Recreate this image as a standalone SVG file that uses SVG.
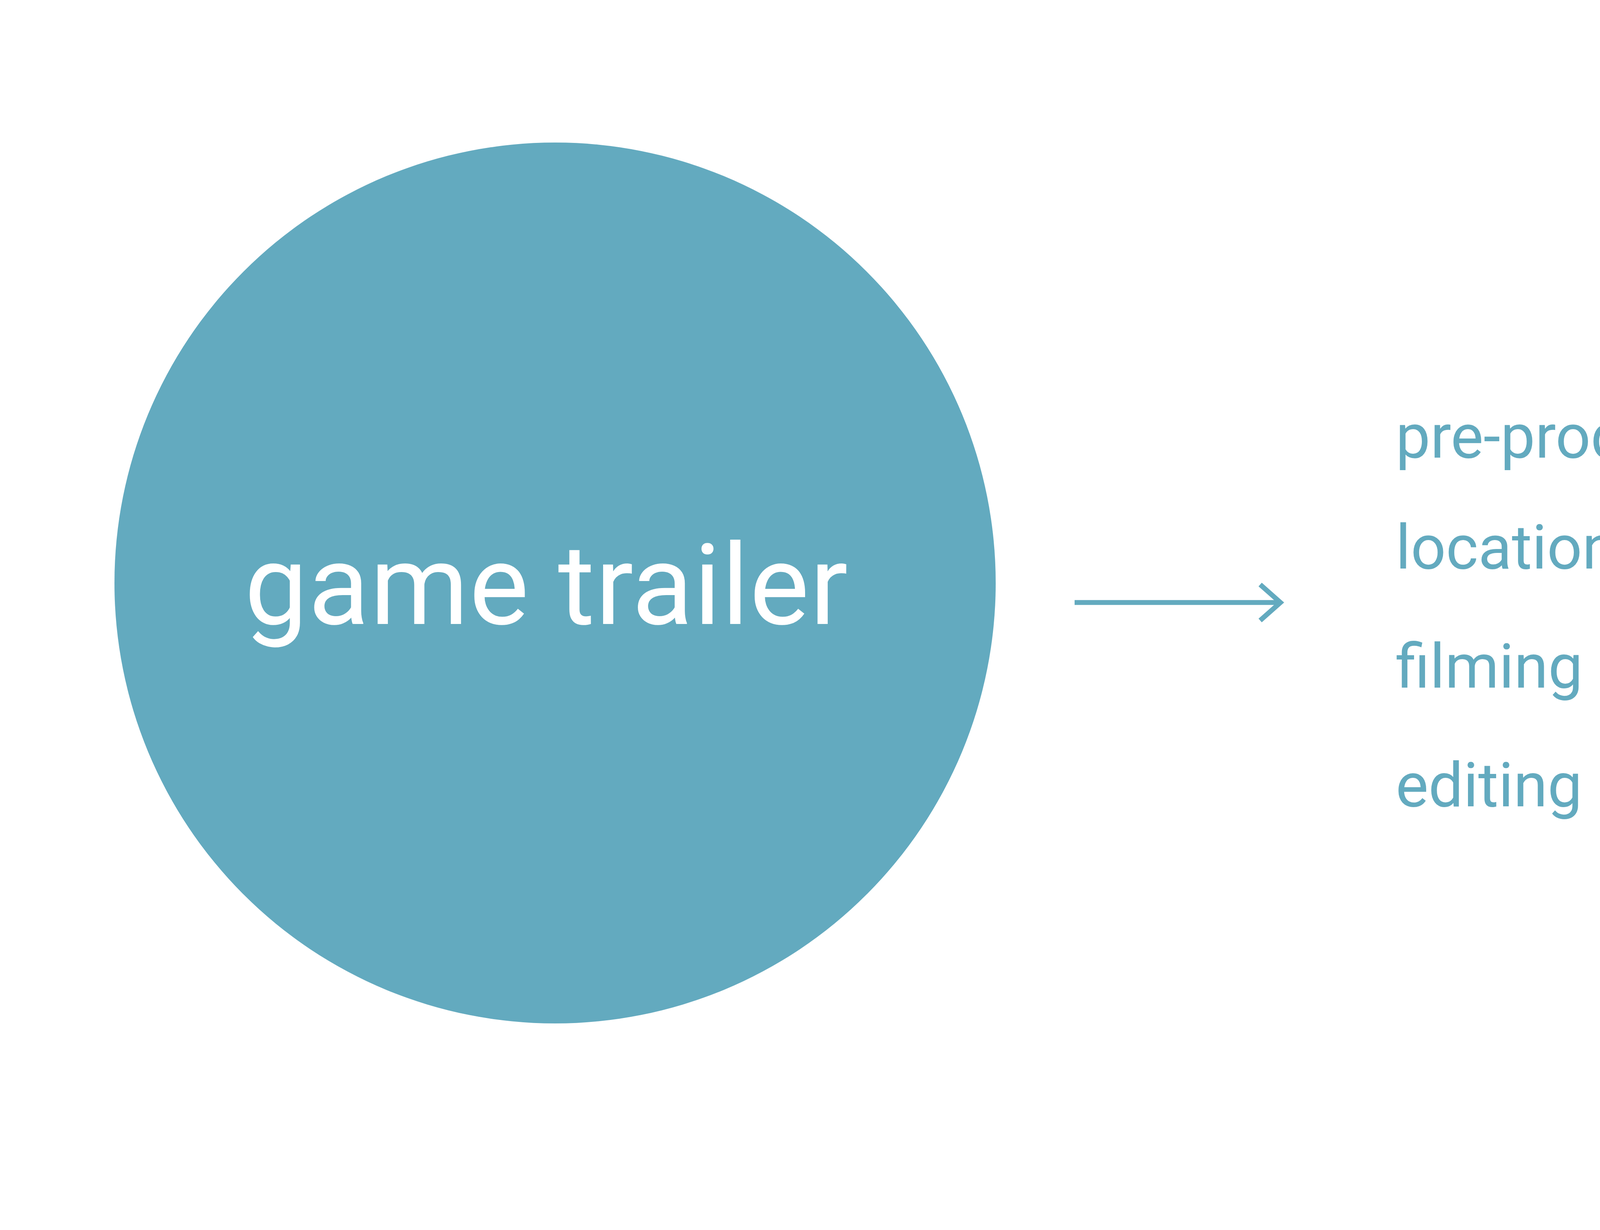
<svg xmlns="http://www.w3.org/2000/svg" width="5713" height="3150" viewBox="0 0 5713 3150">
<style>
.lbl{font-family:Roboto,"Liberation Sans",sans-serif;fill:#63aabf;font-size:158px}
.main{font-family:Roboto,"Liberation Sans",sans-serif;fill:#ffffff;font-size:288px;letter-spacing:1.5px}
.conn{stroke:#63aabf;stroke-width:12.5;fill:none}
</style>
<rect width="5713" height="3150" fill="#ffffff"/>
<g id="node-game-trailer">
<circle cx="1421" cy="1493" r="1128" fill="#63aabf"/>
<text class="main" x="1399" y="1598" text-anchor="middle">game trailer</text>
</g>
<g id="connectors">
<line class="conn" x1="2751" y1="1543" x2="3272" y2="1543"/>
<polyline class="conn" points="3226,1497 3278,1543 3226,1589"/>
</g>
<g id="node-list">
<text class="lbl" x="3573" y="1172">pre-production preparation</text>
<text class="lbl" x="3573" y="1456">location planning</text>
<text class="lbl" x="3573" y="1761">filming individually</text>
<text class="lbl" x="3573" y="2065">editing and post-production</text>
</g>
</svg>
